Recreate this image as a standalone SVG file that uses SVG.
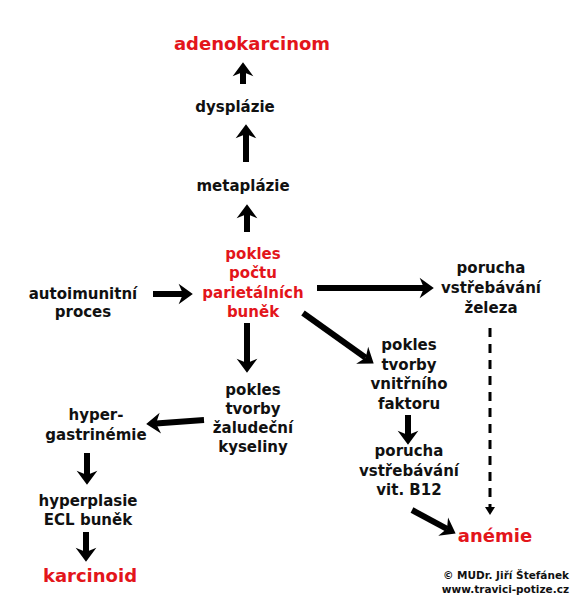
<svg xmlns="http://www.w3.org/2000/svg" width="578" height="600" viewBox="0 0 578 600">
<style>
text{font-family:"DejaVu Sans","Verdana",sans-serif;font-weight:bold;font-size:15px;fill:#111;text-anchor:middle}
.red{fill:#e3151b}
.big{font-size:18px}
.cr{font-size:10.5px;text-anchor:end}
.arr{stroke:#000;stroke-width:6;fill:none;marker-end:url(#head)}
.dash{stroke:#000;stroke-width:3;fill:none;stroke-dasharray:9 7;marker-end:url(#small)}
</style>
<defs>
<marker id="head" markerUnits="userSpaceOnUse" markerWidth="20" markerHeight="24" viewBox="-2 -11 18 22" refX="4" refY="0" orient="auto">
<path d="M0,-9.5 L13,0 L0,9.5 L4,0 Z" fill="#000"/>
</marker>
<marker id="small" markerUnits="userSpaceOnUse" markerWidth="12" markerHeight="12" viewBox="-1 -6 10 12" refX="1" refY="0" orient="auto">
<path d="M0,-5 L8,0 L0,5 Z" fill="#000"/>
</marker>
</defs>
<rect width="578" height="600" fill="#fff"/>
<g id="connectors">
<line class="arr" x1="243" y1="84" x2="243" y2="72"/>
<line class="arr" x1="246" y1="162" x2="246" y2="134"/>
<line class="arr" x1="247" y1="232" x2="247" y2="214"/>
<line class="arr" x1="153" y1="294" x2="183" y2="294"/>
<line class="arr" x1="247" y1="323" x2="247" y2="363"/>
<line class="arr" x1="317" y1="288" x2="424" y2="288"/>
<line class="arr" x1="303" y1="313" x2="365.7" y2="357.8"/>
<line class="arr" x1="204" y1="420" x2="156" y2="423.4"/>
<line class="arr" x1="87" y1="453" x2="87" y2="475"/>
<line class="arr" x1="86" y1="532" x2="86" y2="552"/>
<line class="arr" x1="408" y1="415" x2="408" y2="435"/>
<line class="arr" x1="412" y1="510" x2="447" y2="528.8"/>
<line class="dash" x1="490" y1="328" x2="490" y2="508"/>
</g>
<g id="adenokarcinom"><text class="red big" x="252" y="50">adenokarcinom</text></g>
<g id="dysplazie"><text x="235" y="112">dysplázie</text></g>
<g id="metaplazie"><text x="243" y="191">metaplázie</text></g>
<g id="pokles-poctu"><text class="red" x="253" y="259">pokles</text><text class="red" x="253" y="278.3">počtu</text><text class="red" x="253" y="297.7">parietálních</text><text class="red" x="253" y="317">buněk</text></g>
<g id="autoimunitni"><text x="83" y="299">autoimunitní</text><text x="83" y="317">proces</text></g>
<g id="pokles-kyseliny"><text x="253" y="395">pokles</text><text x="253" y="414">tvorby</text><text x="253" y="433">žaludeční</text><text x="253" y="452">kyseliny</text></g>
<g id="hypergastrinemie"><text x="96" y="420">hyper-</text><text x="96" y="440">gastrinémie</text></g>
<g id="hyperplasie"><text x="88" y="506">hyperplasie</text><text x="88" y="525">ECL buněk</text></g>
<g id="karcinoid"><text class="red big" x="90" y="582">karcinoid</text></g>
<g id="porucha-zeleza"><text x="491" y="273">porucha</text><text x="491" y="293">vstřebávání</text><text x="491" y="313">železa</text></g>
<g id="pokles-faktoru"><text x="409" y="350">pokles</text><text x="409" y="369.7">tvorby</text><text x="409" y="389.3">vnitřního</text><text x="409" y="409">faktoru</text></g>
<g id="porucha-b12"><text x="409" y="456">porucha</text><text x="409" y="475.5">vstřebávání</text><text x="409" y="495">vit. B12</text></g>
<g id="anemie"><text class="red big" x="495" y="542">anémie</text></g>
<g id="copyright"><text class="cr" x="569" y="579">© MUDr. Jiří Štefánek</text><text class="cr" x="569" y="593">www.travici-potize.cz</text></g>
</svg>
